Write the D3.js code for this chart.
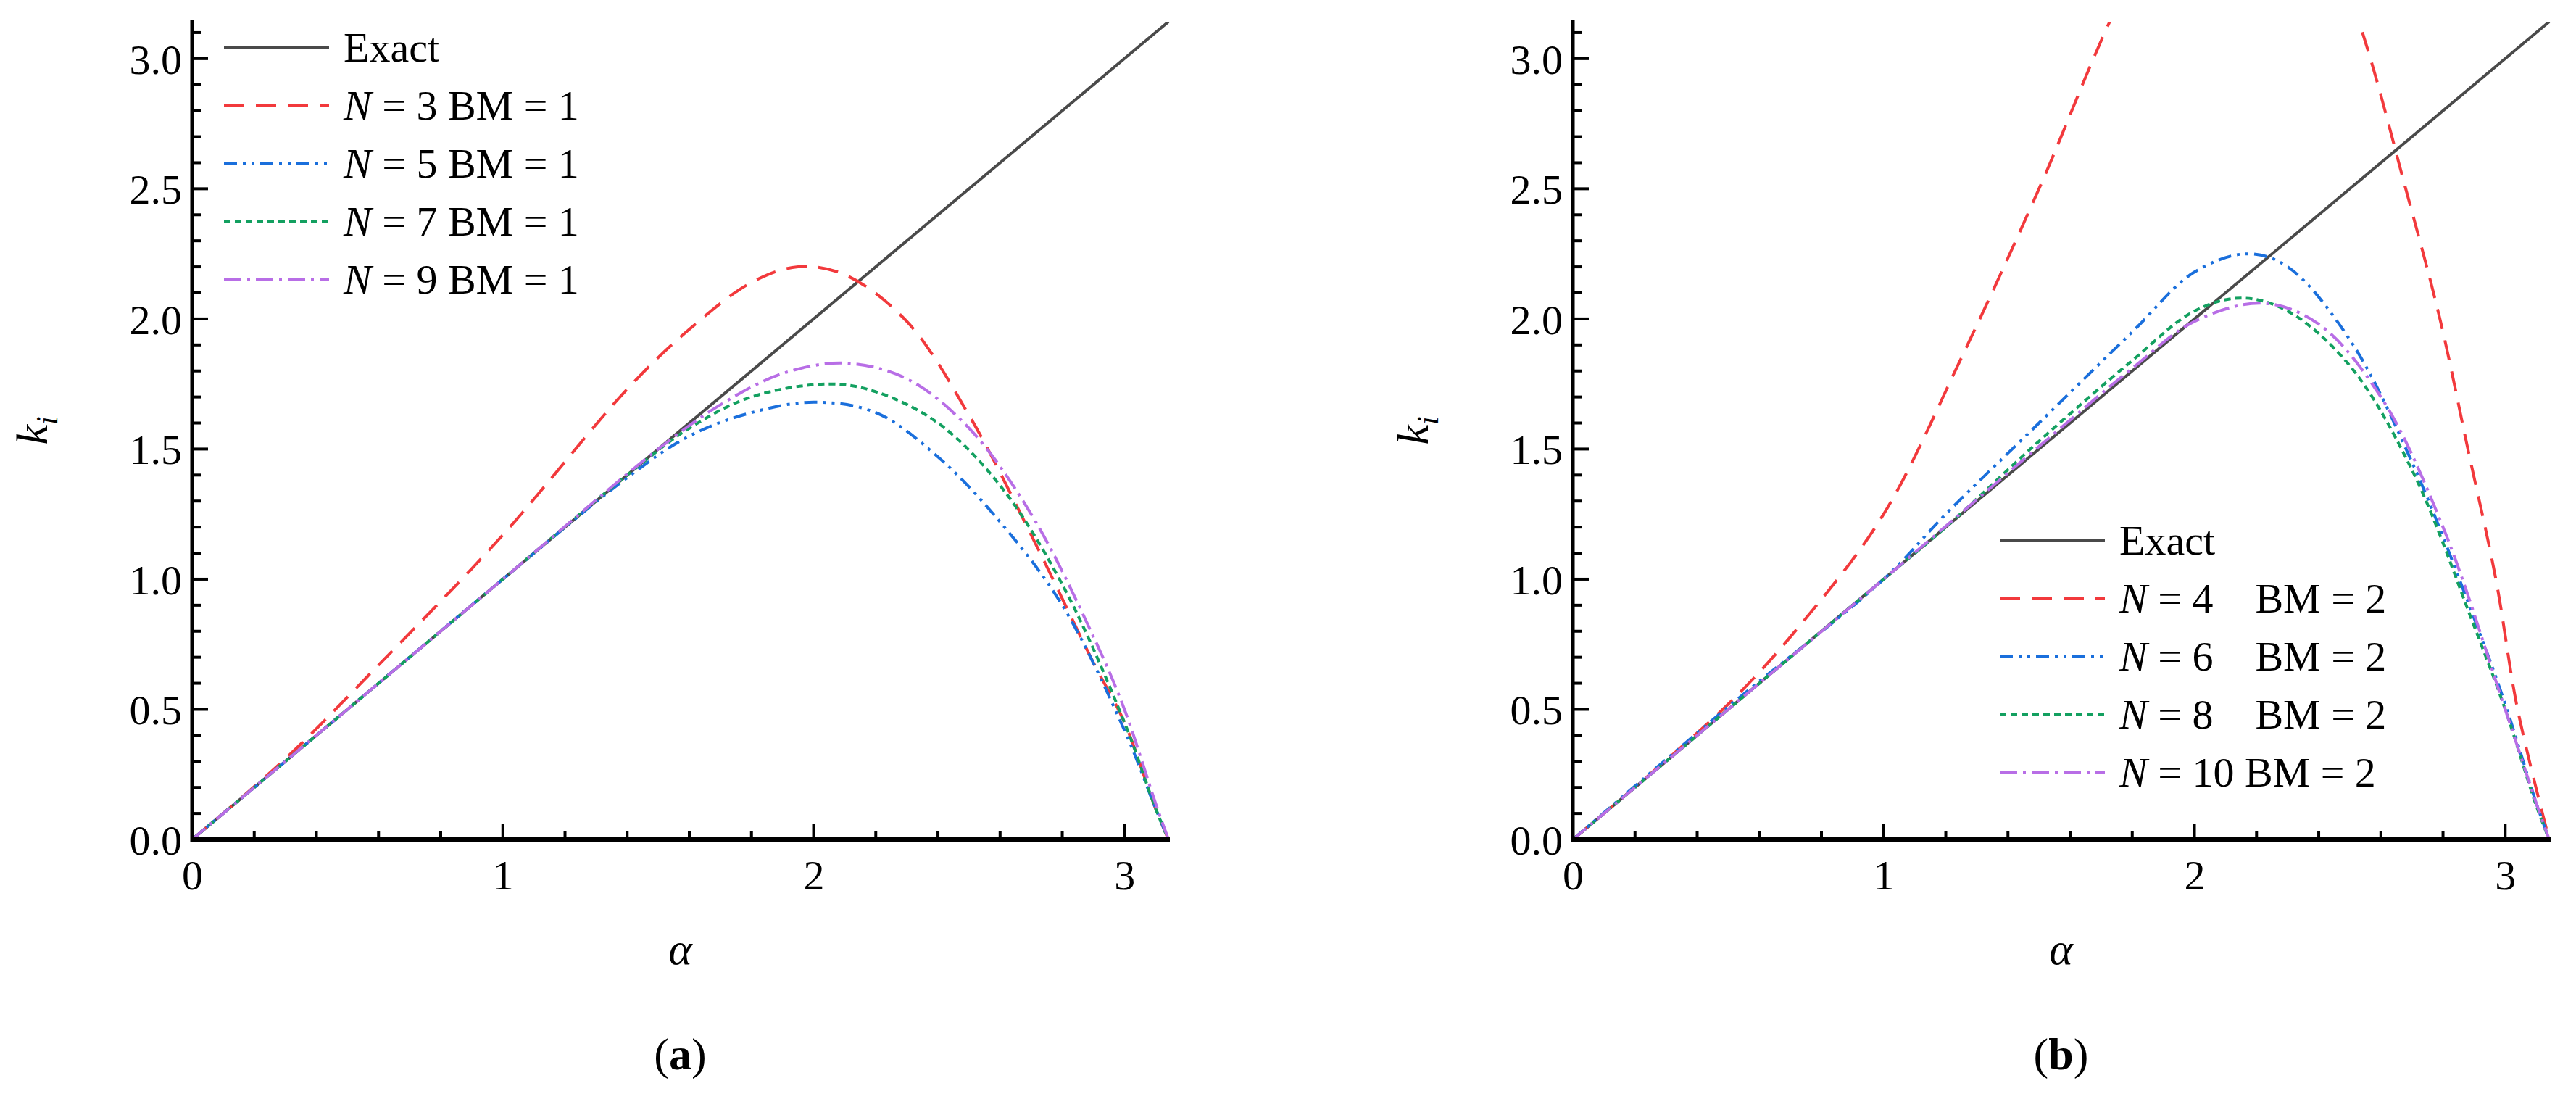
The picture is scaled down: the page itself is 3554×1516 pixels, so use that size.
<!DOCTYPE html>
<html><head><meta charset="utf-8">
<script src="https://cdn.jsdelivr.net/npm/d3@7"></script>
<style>body{margin:0;background:#fff}svg{display:block}</style>
</head><body>
<svg id="c" width="3554" height="1516"></svg>
<script>
const PI = Math.PI;
const xTicks = [0, 1, 2, 3];
const yTicks = [0, 0.5, 1.0, 1.5, 2.0, 2.5, 3.0];
const exact = [[0, 0], [PI, PI]];
const a_N3 = [[0,0],[0.3,0.31],[0.6,0.67],[1.0,1.17],[1.4,1.73],[1.6,1.96],[1.8,2.14],[1.95,2.2],[2.1,2.17],[2.3,1.99],[2.5,1.63],[2.7,1.17],[2.9,0.68],[3.0,0.45],[3.1,0.12],[PI,0]];
const a_N5 = [[0,0],[0.5,0.5],[1.0,1.0],[1.4,1.39],[1.6,1.55],[1.8,1.64],[2.0,1.68],[2.2,1.64],[2.4,1.47],[2.6,1.22],[2.8,0.9],[3.0,0.42],[3.1,0.12],[PI,0]];
const a_N7 = [[0,0],[0.5,0.5],[1.0,1.0],[1.4,1.4],[1.6,1.58],[1.8,1.7],[2.05,1.75],[2.2,1.72],[2.4,1.6],[2.6,1.36],[2.8,0.98],[3.0,0.45],[3.1,0.12],[PI,0]];
const a_N9 = [[0,0],[0.5,0.5],[1.0,1.0],[1.5,1.5],[1.7,1.67],[1.9,1.79],[2.1,1.83],[2.3,1.77],[2.5,1.58],[2.7,1.25],[2.9,0.78],[3.0,0.5],[3.1,0.14],[PI,0]];
const b_N4 = [[0,0],[0.5,0.52],[0.75,0.85],[1.0,1.25],[1.25,1.85],[1.5,2.5],[1.75,3.2],[2.1,4.0],[2.35,3.7],[2.53,3.14],[2.68,2.5],[2.79,2.0],[2.88,1.5],[2.97,1.0],[3.04,0.5],[PI,0]];
const b_N6 = [[0,0],[0.5,0.51],[1.0,1.0],[1.2,1.25],[1.5,1.6],[1.8,1.95],[2.0,2.18],[2.17,2.25],[2.3,2.2],[2.5,1.92],[2.7,1.45],[2.9,0.85],[3.0,0.52],[3.1,0.14],[PI,0]];
const b_N8 = [[0,0],[0.5,0.5],[1.0,1.0],[1.2,1.2],[1.5,1.53],[1.8,1.84],[2.0,2.03],[2.15,2.08],[2.3,2.03],[2.5,1.82],[2.7,1.42],[2.9,0.82],[3.0,0.5],[3.1,0.13],[PI,0]];
const b_N10 = [[0,0],[0.5,0.5],[1.0,1.0],[1.5,1.51],[1.8,1.81],[2.0,1.99],[2.22,2.06],[2.4,1.98],[2.6,1.7],[2.8,1.2],[3.0,0.5],[3.1,0.14],[PI,0]];
const legA = [["Exact",""],["N"," = 3 BM = 1"],["N"," = 5 BM = 1"],["N"," = 7 BM = 1"],["N"," = 9 BM = 1"]];
const legB = [["Exact",""],["N"," = 4\u2003BM = 2"],["N"," = 6\u2003BM = 2"],["N"," = 8\u2003BM = 2"],["N"," = 10 BM = 2"]];

const styles = [
  {c:"#4a4a4a", d:null},
  {c:"#f2393c", d:"28,16"},
  {c:"#1a6fdc", d:"18,8,4,8,4,8"},
  {c:"#13a060", d:"9,6"},
  {c:"#b86ee6", d:"24,8,4,8"}
];
const svg = d3.select("#c");
const font = "'Liberation Serif', 'Times New Roman', serif";

function panel(x0, x1, series, leg, legX, legY, lbl, id){
  const y0 = 1158, y1 = 30;
  const x = d3.scaleLinear().domain([0, PI]).range([x0, x1]);
  const y = d3.scaleLinear().domain([0, PI]).range([y0, y1]);
  const g = svg.append("g");
  g.append("clipPath").attr("id", id).append("rect")
    .attr("x", x0).attr("y", y1).attr("width", x1 - x0 + 2).attr("height", y0 - y1);
  const line = d3.line().x(d => x(d[0])).y(d => y(d[1])).curve(d3.curveCatmullRom);
  series.forEach((s, i) => {
    g.append("path").datum(s).attr("d", line).attr("fill", "none")
      .attr("stroke", styles[i].c).attr("stroke-width", 4)
      .attr("stroke-dasharray", styles[i].d).attr("clip-path", `url(#${id})`);
  });
  const xa = d3.axisBottom(x).tickValues(xTicks).tickSize(0).tickPadding(28).tickFormat(d3.format("d"));
  const ya = d3.axisLeft(y).tickValues(yTicks).tickSize(0).tickPadding(14).tickFormat(d3.format(".1f"));
  const gx = g.append("g").attr("transform", `translate(0,${y0})`).call(xa);
  const gy = g.append("g").attr("transform", `translate(${x0},0)`).call(ya);
  [gx, gy].forEach(a => {
    a.select(".domain").remove();
    a.selectAll("text").attr("font-family", font).attr("font-size", 58).attr("fill", "#000");
  });
  gy.selectAll("text").attr("dy", "0.35em");
  d3.range(0, 3.01, 0.2).forEach(v => {
    const major = Math.abs(v - Math.round(v)) < 1e-6;
    g.append("line").attr("x1", x(v)).attr("x2", x(v)).attr("y1", y0).attr("y2", y0 - (major ? 22 : 12))
      .attr("stroke", "#000").attr("stroke-width", 4);
  });
  d3.range(0, 3.11, 0.1).forEach(v => {
    const major = Math.abs(v * 2 - Math.round(v * 2)) < 1e-6;
    g.append("line").attr("x1", x0).attr("x2", x0 + (major ? 22 : 12)).attr("y1", y(v)).attr("y2", y(v))
      .attr("stroke", "#000").attr("stroke-width", 4);
  });
  g.append("line").attr("x1", x0).attr("x2", x1 + 2).attr("y1", y0).attr("y2", y0).attr("stroke", "#000").attr("stroke-width", 6);
  g.append("line").attr("x1", x0).attr("x2", x0).attr("y1", y0 + 3).attr("y2", y1 - 2).attr("stroke", "#000").attr("stroke-width", 5);
  const t = g.append("text").attr("transform", `translate(${x0 - 200},${(y0 + y1) / 2}) rotate(-90)`)
    .attr("text-anchor", "middle").attr("font-family", font).attr("font-size", 62).attr("font-style", "italic");
  t.append("tspan").text("k");
  t.append("tspan").text("i").attr("font-size", 42).attr("dy", 14);
  g.append("text").attr("x", (x0 + x1) / 2).attr("y", 1330).attr("text-anchor", "middle")
    .attr("font-family", font).attr("font-size", 62).attr("font-style", "italic").text("α");
  const lab = g.append("text").attr("x", (x0 + x1) / 2).attr("y", 1475).attr("text-anchor", "middle")
    .attr("font-family", font).attr("font-size", 62);
  lab.append("tspan").text("(");
  lab.append("tspan").text(lbl).attr("font-weight", "bold");
  lab.append("tspan").text(")");
  leg.forEach((l, i) => {
    const yy = legY + i * 80;
    g.append("line").attr("x1", legX).attr("x2", legX + 145).attr("y1", yy).attr("y2", yy)
      .attr("stroke", styles[i].c).attr("stroke-width", 4).attr("stroke-dasharray", styles[i].d);
    const tt = g.append("text").attr("x", legX + 165).attr("y", yy).attr("dy", "0.35em")
      .attr("font-family", font).attr("font-size", 58);
    if (l[1] === "") tt.text(l[0]);
    else { tt.append("tspan").text(l[0]).attr("font-style", "italic"); tt.append("tspan").text(l[1]); }
  });
}
panel(265, 1612, [exact, a_N3, a_N5, a_N7, a_N9], legA, 309, 65, "a", "ca");
panel(2170, 3517, [exact, b_N4, b_N6, b_N8, b_N10], legB, 2759, 745, "b", "cb");
</script>
</body></html>
